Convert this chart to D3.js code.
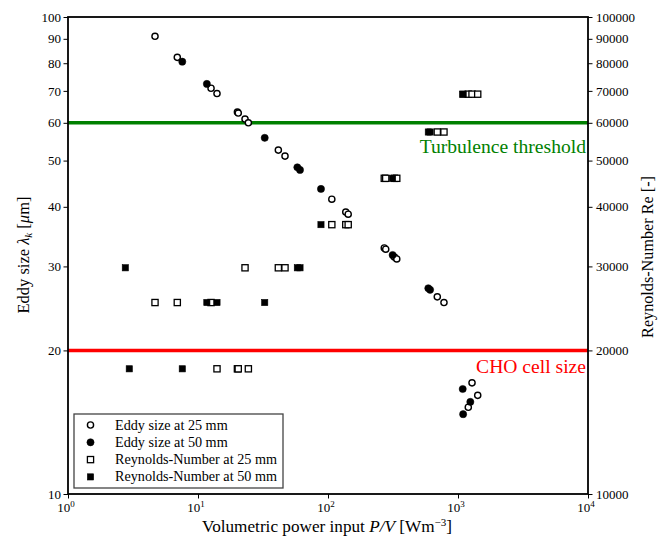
<!DOCTYPE html>
<html>
<head>
<meta charset="utf-8">
<script src="https://cdn.jsdelivr.net/npm/d3@7"></script>
<style>
  body { margin: 0; background: #fff; }
  svg text { font-family: "Liberation Serif", "DejaVu Serif", serif; }
</style>
</head>
<body>
<div id="chart"></div>
<script>
// eddy size (left axis, um) vs volumetric power input P/V
var eddy25P = [4.67, 6.93, 12.6, 14.0, 20.1, 20.4, 23.0, 24.4, 41.5, 46.7, 107, 137, 143, 271, 278, 324, 338, 693, 780, 1200, 1282, 1418];
var eddy25  = [91.1, 82.3, 70.9, 69.1, 63.2, 62.9, 61.1, 60.0, 52.6, 51.1, 41.5, 39.0, 38.6, 32.8, 32.6, 31.4, 31.1, 25.9, 25.2, 15.2, 17.1, 16.1];
var eddy50P = [7.57, 11.7, 32.6, 58.1, 60.9, 88.3, 314, 591, 610, 1087, 1244, 1095];
var eddy50  = [80.6, 72.4, 55.8, 48.4, 47.8, 43.6, 31.7, 27.0, 26.8, 16.6, 15.6, 14.7];

// Reynolds number (right axis)
var re25P = [4.67, 6.93, 12.6, 14.0, 20.1, 20.4, 23.0, 24.4, 41.5, 46.7, 107, 137, 143, 271, 278, 324, 338, 693, 780, 1200, 1282, 1418];
var re25  = [25200, 25200, 25200, 18300, 18300, 18300, 29800, 18300, 29800, 29800, 36700, 36700, 36700, 45900, 45900, 45900, 45900, 57400, 57400, 68900, 68900, 68900];
var re50P = [2.76, 2.96, 7.57, 11.7, 14.0, 32.6, 58.1, 60.9, 88.3, 314, 591, 610, 1087, 1095];
var re50  = [29800, 18300, 18300, 25200, 25200, 25200, 29800, 29800, 36700, 45900, 57400, 57400, 68900, 68900];

var xTicks = [1, 10, 100, 1000, 10000];
var xExp = ["0", "1", "2", "3", "4"];
var yLeftTicks = [10, 20, 30, 40, 50, 60, 70, 80, 90, 100];
var yRightTicks = [10000, 20000, 30000, 40000, 50000, 60000, 70000, 80000, 90000, 100000];

var thresholds = [
  {v: 60, label: "Turbulence threshold", color: "#008000", dy: 30},
  {v: 20, label: "CHO cell size", color: "#ff0000", dy: 23}
];

var legendItems = ["Eddy size at 25 mm", "Eddy size at 50 mm", "Reynolds-Number at 25 mm", "Reynolds-Number at 50 mm"];

var W = 670, H = 537;
var padL = 68, padR = 588, padT = 17, padB = 494;

var svg = d3.select("#chart").append("svg")
  .attr("width", W)
  .attr("height", H);

var x = d3.scaleLog().domain([1, 10000]).range([padL, padR]);
var yL = d3.scaleLog().domain([10, 100]).range([padB, padT]);
var yR = d3.scaleLog().domain([10000, 100000]).range([padB, padT]);

// minor ticks for x
var xMinor = [];
for (var d = 1; d < 10000; d *= 10) {
  for (var k = 2; k <= 9; k++) xMinor.push(d * k);
}

var gx = svg.append("g").attr("transform", "translate(0," + padB + ")");
gx.call(d3.axisBottom(x).tickValues(xMinor).tickSize(2.5).tickFormat(""));
gx.call(d3.axisBottom(x).tickValues(xTicks).tickSize(4.5).tickFormat(""));
gx.selectAll("path").remove();
gx.selectAll("line").attr("stroke", "#000").attr("stroke-width", 1);

var xlab = svg.append("g");
xTicks.forEach(function(t, i) {
  var tx = xlab.append("text")
    .attr("x", x(t) - 2)
    .attr("y", padB + 18)
    .attr("text-anchor", "middle")
    .attr("font-size", 13);
  tx.append("tspan").text("10");
  tx.append("tspan").attr("font-size", 9).attr("dy", -5).text(xExp[i]);
});

var gyL = svg.append("g").attr("transform", "translate(" + padL + ",0)");
gyL.call(d3.axisLeft(yL).tickValues(yLeftTicks).tickSize(4.5).tickFormat(d3.format("d")));
gyL.select("path").remove();
gyL.selectAll("line").attr("stroke", "#000").attr("stroke-width", 1);
gyL.selectAll("text").attr("font-size", 13).attr("font-family", "Liberation Serif").attr("fill", "#000").attr("x", -7);

var gyR = svg.append("g").attr("transform", "translate(" + padR + ",0)");
gyR.call(d3.axisRight(yR).tickValues(yRightTicks).tickSize(4.5).tickFormat(d3.format("d")));
gyR.select("path").remove();
gyR.selectAll("line").attr("stroke", "#000").attr("stroke-width", 1);
gyR.selectAll("text").attr("font-size", 13).attr("font-family", "Liberation Serif").attr("fill", "#000").attr("x", 8);

// threshold lines
thresholds.forEach(function(t) {
  svg.append("line")
    .attr("x1", padL).attr("x2", padR)
    .attr("y1", yL(t.v)).attr("y2", yL(t.v))
    .attr("stroke", t.color)
    .attr("stroke-width", 3.5);
  svg.append("text")
    .attr("x", padR - 2)
    .attr("y", yL(t.v) + t.dy)
    .attr("text-anchor", "end")
    .attr("font-size", 19.6)
    .attr("fill", t.color)
    .text(t.label);
});

// markers
function circles(P, V, filled) {
  svg.append("g").selectAll("circle")
    .data(d3.zip(P, V))
    .join("circle")
    .attr("cx", function(d) { return x(d[0]); })
    .attr("cy", function(d) { return yL(d[1]); })
    .attr("r", filled ? 3.6 : 3.1)
    .attr("fill", filled ? "#000" : "#fff")
    .attr("stroke", "#000")
    .attr("stroke-width", filled ? 0.5 : 1.4);
}
function squares(P, V, filled) {
  var s = 6.2;
  svg.append("g").selectAll("rect")
    .data(d3.zip(P, V))
    .join("rect")
    .attr("x", function(d) { return x(d[0]) - s / 2; })
    .attr("y", function(d) { return yR(d[1]) - s / 2; })
    .attr("width", s).attr("height", s)
    .attr("fill", filled ? "#000" : "#fff")
    .attr("stroke", "#000")
    .attr("stroke-width", filled ? 0.6 : 1.3);
}
circles(eddy25P, eddy25, false);
circles(eddy50P, eddy50, true);
squares(re25P, re25, false);
squares(re50P, re50, true);

// frame
svg.append("rect")
  .attr("x", padL).attr("y", padT)
  .attr("width", padR - padL).attr("height", padB - padT)
  .attr("fill", "none")
  .attr("stroke", "#000")
  .attr("stroke-width", 1.8);

// legend
var lg = svg.append("g").attr("transform", "translate(74,414)");
lg.append("rect")
  .attr("width", 209).attr("height", 74)
  .attr("fill", "#fff")
  .attr("stroke", "#444")
  .attr("stroke-width", 1.3);
legendItems.forEach(function(name, i) {
  var cy = 11 + i * 17.3;
  if (i < 2) {
    lg.append("circle").attr("cx", 16.5).attr("cy", cy).attr("r", i == 0 ? 3.1 : 3.6)
      .attr("fill", i == 0 ? "#fff" : "#000").attr("stroke", "#000").attr("stroke-width", i == 0 ? 1.4 : 0.5);
  } else {
    lg.append("rect").attr("x", 13.4).attr("y", cy - 3.1).attr("width", 6.2).attr("height", 6.2)
      .attr("fill", i == 2 ? "#fff" : "#000").attr("stroke", "#000").attr("stroke-width", i == 2 ? 1.3 : 0.6);
  }
  lg.append("text").attr("x", 41).attr("y", cy + 4.5)
    .attr("font-size", 14.2)
    .text(name);
});

// axis titles
var xt = svg.append("text")
  .attr("x", 327).attr("y", 532)
  .attr("text-anchor", "middle")
  .attr("font-size", 17.2);
xt.append("tspan").text("Volumetric power input ");
xt.append("tspan").attr("font-style", "italic").text("P/V");
xt.append("tspan").text(" [Wm");
xt.append("tspan").attr("font-size", 11).attr("dy", -6).text("\u22123");
xt.append("tspan").attr("dy", 6).text("]");

var ytl = svg.append("text")
  .attr("transform", "translate(29,255) rotate(-90)")
  .attr("text-anchor", "middle")
  .attr("font-size", 16.5);
ytl.append("tspan").text("Eddy size ");
ytl.append("tspan").attr("font-style", "italic").text("\u03bb");
ytl.append("tspan").attr("font-style", "italic").attr("font-size", 11).attr("dy", 3).text("k");
ytl.append("tspan").attr("dy", -3).text(" [");
ytl.append("tspan").attr("font-style", "italic").text("\u03bc");
ytl.append("tspan").text("m]");

svg.append("text")
  .attr("transform", "translate(653,257) rotate(-90)")
  .attr("text-anchor", "middle")
  .attr("font-size", 16.2)
  .text("Reynolds-Number Re [-]");
</script>
</body>
</html>
